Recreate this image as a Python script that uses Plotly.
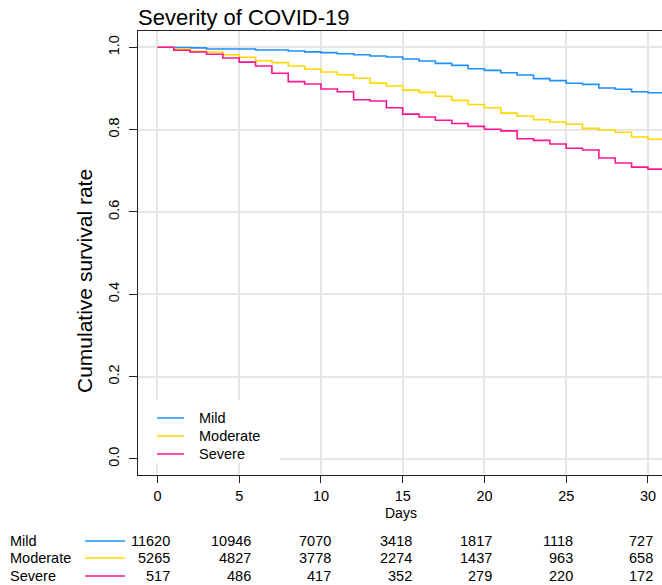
import plotly.graph_objects as go

# ---- data ----
days = list(range(0, 31))
groups = ["Mild", "Moderate", "Severe"]
mild = [1.0, 0.9995, 0.9985, 0.996, 0.996, 0.996, 0.9935, 0.9935, 0.991, 0.989,
        0.987, 0.9845, 0.982, 0.979, 0.9765, 0.9716, 0.9667, 0.961, 0.956, 0.948,
        0.944, 0.938, 0.9327, 0.924, 0.919, 0.9125, 0.910, 0.901, 0.898, 0.892, 0.8895]
moderate = [1.0, 0.996, 0.990, 0.9886, 0.982, 0.976, 0.9675, 0.9627, 0.9546, 0.9466,
            0.940, 0.9335, 0.9247, 0.913, 0.906, 0.896, 0.8904, 0.881, 0.871, 0.861,
            0.853, 0.840, 0.833, 0.824, 0.8185, 0.813, 0.803, 0.799, 0.7935, 0.782, 0.7765]
severe = [1.0, 0.9927, 0.9886, 0.983, 0.974, 0.964, 0.9546, 0.937, 0.9165, 0.911,
          0.8986, 0.892, 0.8727, 0.8696, 0.853, 0.8377, 0.8307, 0.8227, 0.815, 0.808,
          0.801, 0.797, 0.778, 0.774, 0.765, 0.7547, 0.7505, 0.731, 0.719, 0.709, 0.704]
end_day = 31.5
risk_days = [0, 5, 10, 15, 20, 25, 30]
risk_mild = [11620, 10946, 7070, 3418, 1817, 1118, 727]
risk_moderate = [5265, 4827, 3778, 2274, 1437, 963, 658]
risk_severe = [517, 486, 417, 352, 279, 220, 172]
x_ticks = [0, 5, 10, 15, 20, 25, 30]
y_ticks = [0.0, 0.2, 0.4, 0.6, 0.8, 1.0]

colors = {"Mild": "#1E90FF", "Moderate": "#FFD700", "Severe": "#FF1493"}
series = {"Mild": mild, "Moderate": moderate, "Severe": severe}
risks = {"Mild": risk_mild, "Moderate": risk_moderate, "Severe": risk_severe}

FONT = "Liberation Sans, Arial, Helvetica, sans-serif"
W, H = 662, 585
L, R, T, B = 138, 0, 31, 110
pw, ph = W - L - R, H - T - B


def px(xp):
    return (xp - L) / pw


def py(yp):
    return (H - B - yp) / ph


fig = go.Figure()
for g in groups:
    fig.add_trace(go.Scatter(
        x=days + [end_day], y=series[g] + [series[g][-1]],
        mode="lines", line=dict(color=colors[g], width=1.6, shape="hv"),
        name=g, showlegend=False))

fig.update_layout(
    width=W, height=H,
    margin=dict(l=L, r=R, t=T, b=B, pad=0),
    paper_bgcolor="white", plot_bgcolor="white",
    font=dict(family=FONT, color="black"),
    showlegend=False,
    title=dict(text="Severity of COVID-19", x=L / W, xanchor="left",
               y=1 - 17 / H, yanchor="middle", font=dict(size=22, family=FONT)),
)
fig.update_xaxes(range=[-1.19, 30.86], tickvals=x_ticks, ticktext=[str(v) for v in x_ticks],
                 showgrid=True, gridcolor="#E6E6E6", gridwidth=1.5, zeroline=False,
                 showline=True, linecolor="#222", linewidth=1.3, mirror=True,
                 ticks="outside", ticklen=7, tickcolor="#222", tickwidth=1.2,
                 tickfont=dict(size=14.5, family=FONT))
fig.update_yaxes(range=[-0.039, 1.0396], tickvals=y_ticks, ticktext=[f"{v:.1f}" for v in y_ticks],
                 showgrid=True, gridcolor="#E6E6E6", gridwidth=1.5, zeroline=False,
                 showline=True, linecolor="#222", linewidth=1.3, mirror=False,
                 ticks="outside", ticklen=8, tickcolor="#222", tickwidth=1.2,
                 tickangle=-90, ticklabelstandoff=4, tickfont=dict(size=14.5, family=FONT))

ann = []
shapes = []
# y title
ann.append(dict(text="Cumulative survival rate", xref="paper", yref="paper",
                x=px(84), y=py(281), xanchor="center", yanchor="middle",
                textangle=-90, showarrow=False, font=dict(size=21, family=FONT)))
# x title
ann.append(dict(text="Days", xref="paper", yref="paper",
                x=px(401), y=py(513), xanchor="center", yanchor="middle",
                showarrow=False, font=dict(size=14, family=FONT)))

# legend (drawn manually)
shapes.append(dict(type="rect", xref="paper", yref="paper",
                   x0=px(139.5), x1=px(280), y0=py(463), y1=py(400),
                   fillcolor="white", line=dict(width=0), layer="above"))
leg_y = {"Mild": 418, "Moderate": 436, "Severe": 454}
for g in groups:
    yy = py(leg_y[g])
    shapes.append(dict(type="line", xref="paper", yref="paper",
                       x0=px(157), x1=px(184), y0=yy, y1=yy,
                       line=dict(color=colors[g], width=1.5), layer="above"))
    ann.append(dict(text=g, xref="paper", yref="paper", x=px(197), y=yy,
                    xanchor="left", yanchor="middle", showarrow=False,
                    font=dict(size=14.5, family=FONT)))

# number-at-risk table
row_y = {"Mild": 541, "Moderate": 558, "Severe": 576}
for g in groups:
    yy = py(row_y[g])
    ann.append(dict(text=g, xref="paper", yref="paper", x=px(8), y=yy,
                    xanchor="left", yanchor="middle", showarrow=False,
                    font=dict(size=14.5, family=FONT)))
    shapes.append(dict(type="line", xref="paper", yref="paper",
                       x0=px(85), x1=px(125), y0=yy, y1=yy,
                       line=dict(color=colors[g], width=1.5)))
    for d, n in zip(risk_days, risks[g]):
        ann.append(dict(text=str(n), xref="x", yref="paper", x=d, y=yy,
                        xanchor="right", yanchor="middle", showarrow=False,
                        xshift=14.5 - 0.24 * d, font=dict(size=14.5, family=FONT)))

fig.update_layout(annotations=ann, shapes=shapes)
fig.write_html("out.html")
